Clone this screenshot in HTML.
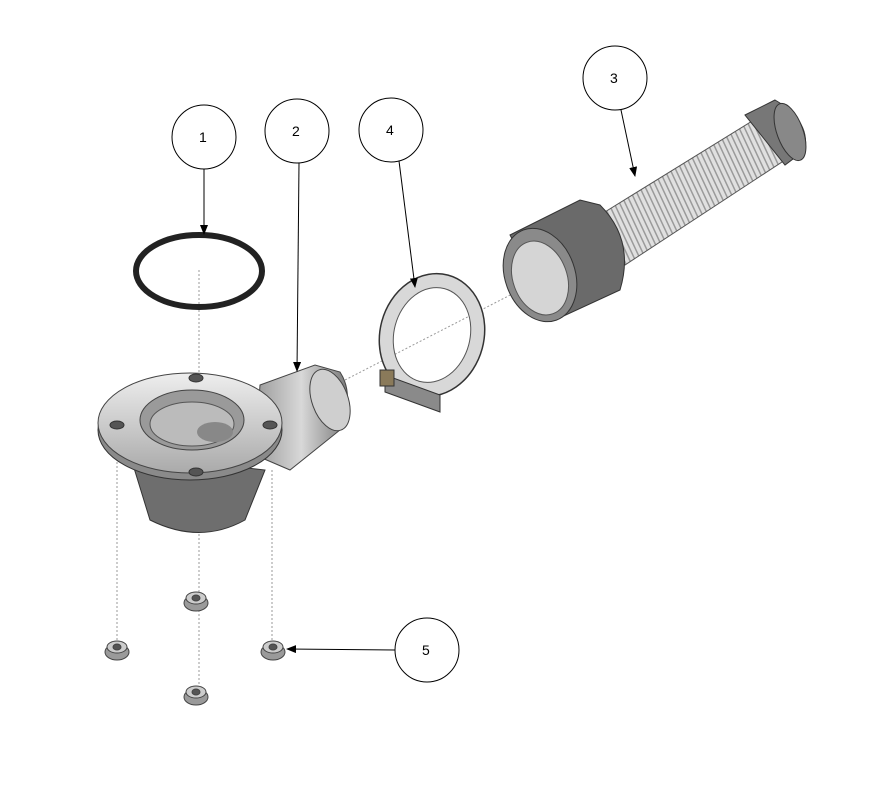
<!DOCTYPE html>
<html><head><meta charset="utf-8"><style>
html,body{margin:0;padding:0;background:#fff;}
svg{display:block}
text{font-family:"Liberation Sans",sans-serif;font-size:14px;fill:#000}
</style></head><body>
<svg width="882" height="786" viewBox="0 0 882 786" xmlns="http://www.w3.org/2000/svg">
<defs>
<linearGradient id="g1" x1="0" y1="0" x2="1" y2="0">
<stop offset="0" stop-color="#9a9a9a"/><stop offset="0.5" stop-color="#d8d8d8"/><stop offset="1" stop-color="#7a7a7a"/></linearGradient>
<linearGradient id="g2" x1="0" y1="0" x2="0" y2="1">
<stop offset="0" stop-color="#eeeeee"/><stop offset="1" stop-color="#aaaaaa"/></linearGradient>
<pattern id="rib" width="5" height="6" patternUnits="userSpaceOnUse" patternTransform="rotate(-25)">
<rect width="5" height="6" fill="#e0e0e0"/><rect width="1.5" height="6" fill="#9a9a9a"/></pattern>
<marker id="ah" markerWidth="10" markerHeight="8" refX="9" refY="4" orient="auto" markerUnits="userSpaceOnUse">
<path d="M0,0 L10,4 L0,8 z" fill="#000"/></marker>
</defs>

<g stroke="#999" stroke-width="1" stroke-dasharray="2,2" fill="none">
<line x1="199" y1="270" x2="199" y2="690"/>
<line x1="117" y1="450" x2="117" y2="640"/>
<line x1="272" y1="470" x2="272" y2="640"/>
<line x1="345" y1="380" x2="520" y2="290"/>
</g>

<ellipse cx="199" cy="271" rx="63" ry="36" fill="none" stroke="#222" stroke-width="6"/>

<path d="M130,455 L150,520 Q200,545 245,520 L265,470 z" fill="#6e6e6e" stroke="#333"/>
<path d="M260,385 L315,365 L340,372 Q355,395 340,430 L290,470 L255,455 z" fill="url(#g1)" stroke="#444"/>
<ellipse cx="330" cy="400" rx="18" ry="32" transform="rotate(-20 330 400)" fill="#cfcfcf" stroke="#444"/>
<ellipse cx="190" cy="430" rx="92" ry="50" fill="#8a8a8a" stroke="#333"/>
<ellipse cx="190" cy="423" rx="92" ry="50" fill="url(#g2)" stroke="#444"/>
<ellipse cx="192" cy="420" rx="52" ry="30" fill="#9a9a9a" stroke="#444"/>
<ellipse cx="192" cy="424" rx="42" ry="22" fill="#bbbbbb" stroke="#555"/>
<ellipse cx="215" cy="432" rx="18" ry="10" fill="#888"/>
<g fill="#555" stroke="#333">
<ellipse cx="196" cy="378" rx="7" ry="4"/>
<ellipse cx="117" cy="425" rx="7" ry="4"/>
<ellipse cx="270" cy="425" rx="7" ry="4"/>
<ellipse cx="196" cy="472" rx="7" ry="4"/>
</g>

<!-- clamp -->
<ellipse cx="432" cy="335" rx="45" ry="55" transform="rotate(15 432 335)" fill="none" stroke="#d8d8d8" stroke-width="14"/>
<ellipse cx="432" cy="335" rx="52" ry="62" transform="rotate(15 432 335)" fill="none" stroke="#333" stroke-width="1.5"/>
<ellipse cx="432" cy="335" rx="38" ry="48" transform="rotate(15 432 335)" fill="none" stroke="#555" stroke-width="1"/>
<path d="M385,375 L440,395 L440,412 L385,392 z" fill="#8a8a8a" stroke="#333"/>
<rect x="380" y="370" width="14" height="16" fill="#8a7a5a" stroke="#333"/>

<!-- hose -->
<path d="M600,215 L770,110 L785,160 L625,265 z" fill="url(#rib)" stroke="#555"/>
<path d="M745,115 L775,100 Q810,120 805,150 L785,165 z" fill="#777" stroke="#333"/>
<ellipse cx="790" cy="132" rx="13" ry="30" transform="rotate(-20 790 132)" fill="#888" stroke="#333"/>
<path d="M510,235 L580,200 L600,205 Q635,240 620,290 L555,320 z" fill="#6a6a6a" stroke="#333"/>
<ellipse cx="540" cy="275" rx="35" ry="48" transform="rotate(-20 540 275)" fill="#8a8a8a" stroke="#333"/>
<ellipse cx="540" cy="278" rx="27" ry="38" transform="rotate(-20 540 278)" fill="#d5d5d5" stroke="#555"/>

<g stroke="#444" fill="#9a9a9a">
<g><ellipse cx="196" cy="603" rx="12" ry="8"/><ellipse cx="196" cy="598" rx="10" ry="6" fill="#ccc"/><ellipse cx="196" cy="598" rx="4" ry="3" fill="#555"/></g>
<g><ellipse cx="117" cy="652" rx="12" ry="8"/><ellipse cx="117" cy="647" rx="10" ry="6" fill="#ccc"/><ellipse cx="117" cy="647" rx="4" ry="3" fill="#555"/></g>
<g><ellipse cx="273" cy="652" rx="12" ry="8"/><ellipse cx="273" cy="647" rx="10" ry="6" fill="#ccc"/><ellipse cx="273" cy="647" rx="4" ry="3" fill="#555"/></g>
<g><ellipse cx="196" cy="697" rx="12" ry="8"/><ellipse cx="196" cy="692" rx="10" ry="6" fill="#ccc"/><ellipse cx="196" cy="692" rx="4" ry="3" fill="#555"/></g>
</g>

<g fill="#fff" stroke="#000" stroke-width="1">
<circle cx="204" cy="137" r="32"/>
<circle cx="297" cy="131" r="32"/>
<circle cx="391" cy="130" r="32"/>
<circle cx="615" cy="78" r="32"/>
<circle cx="427" cy="650" r="32"/>
</g>
<text x="199" y="142">1</text>
<text x="292" y="136">2</text>
<text x="386" y="135">4</text>
<text x="610" y="83">3</text>
<text x="422" y="655">5</text>
<g stroke="#000" stroke-width="1" fill="none" marker-end="url(#ah)">
<line x1="204" y1="169" x2="204" y2="234"/>
<line x1="299" y1="163" x2="297" y2="371"/>
<line x1="399" y1="161" x2="415" y2="287"/>
<line x1="621" y1="110" x2="635" y2="176"/>
<line x1="395" y1="650" x2="287" y2="649"/>
</g>
</svg>
</body></html>
